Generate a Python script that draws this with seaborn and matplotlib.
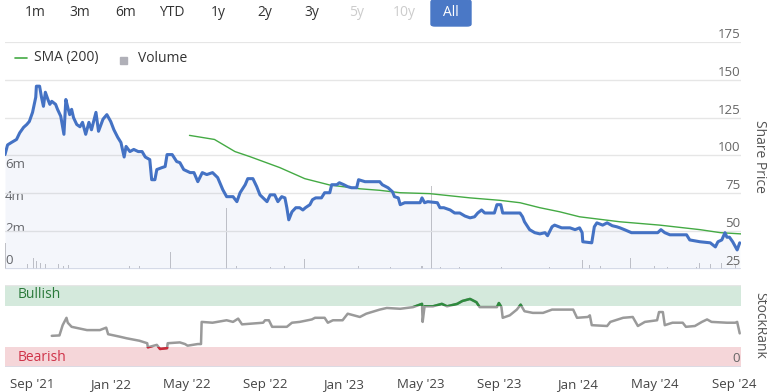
import matplotlib
matplotlib.use('Agg')
import matplotlib.pyplot as plt
import matplotlib.dates as mdates
import matplotlib.transforms as mtransforms
from matplotlib.patches import Rectangle, FancyBboxPatch
import pandas as pd
import seaborn as sns

# Share price
price_dates = ['2021-07-21', '2021-07-25', '2021-07-31', '2021-08-08', '2021-08-13', '2021-08-19',
               '2021-08-24', '2021-08-28', '2021-09-02', '2021-09-07', '2021-09-08', '2021-09-13',
               '2021-09-16', '2021-09-19', '2021-09-22', '2021-09-26', '2021-09-29', '2021-10-02',
               '2021-10-08', '2021-10-11', '2021-10-16', '2021-10-21', '2021-10-24', '2021-10-27',
               '2021-10-30', '2021-11-02', '2021-11-05', '2021-11-10', '2021-11-15', '2021-11-19',
               '2021-11-24', '2021-11-29', '2021-12-03', '2021-12-10', '2021-12-14', '2021-12-21',
               '2021-12-27', '2022-01-02', '2022-01-07', '2022-01-13', '2022-01-18', '2022-01-23',
               '2022-01-26', '2022-02-01', '2022-02-07', '2022-02-14', '2022-02-20', '2022-02-25',
               '2022-03-04', '2022-03-07', '2022-03-12', '2022-03-15', '2022-03-23', '2022-03-28',
               '2022-03-31', '2022-04-08', '2022-04-15', '2022-04-20', '2022-04-26', '2022-05-06',
               '2022-05-12', '2022-05-18', '2022-05-25', '2022-06-01', '2022-06-10', '2022-06-18',
               '2022-06-26', '2022-07-02', '2022-07-12', '2022-07-18', '2022-07-23', '2022-07-31',
               '2022-08-04', '2022-08-12', '2022-08-18', '2022-08-23', '2022-08-28', '2022-09-03',
               '2022-09-08', '2022-09-15', '2022-09-20', '2022-09-26', '2022-10-01', '2022-10-04',
               '2022-10-07', '2022-10-12', '2022-10-18', '2022-10-24', '2022-10-29', '2022-11-02',
               '2022-11-09', '2022-11-13', '2022-11-18', '2022-11-27', '2022-12-02', '2022-12-10',
               '2022-12-13', '2022-12-21', '2022-12-25', '2023-01-01', '2023-01-07', '2023-01-13',
               '2023-01-21', '2023-01-24', '2023-02-03', '2023-02-14', '2023-02-26', '2023-03-02',
               '2023-03-11', '2023-03-18', '2023-03-21', '2023-03-27', '2023-03-30', '2023-04-06',
               '2023-04-17', '2023-04-30', '2023-05-03', '2023-05-07', '2023-05-12', '2023-05-27',
               '2023-05-31', '2023-06-06', '2023-06-16', '2023-06-23', '2023-07-01', '2023-07-09',
               '2023-07-17', '2023-07-24', '2023-07-29', '2023-08-04', '2023-08-09', '2023-08-24',
               '2023-08-28', '2023-09-03', '2023-09-06', '2023-10-03', '2023-10-07', '2023-10-10',
               '2023-10-18', '2023-10-26', '2023-11-03', '2023-11-11', '2023-11-15', '2023-11-18',
               '2023-11-22', '2023-11-26', '2023-12-07', '2023-12-20', '2023-12-28', '2024-01-04',
               '2024-01-08', '2024-01-09', '2024-01-23', '2024-01-27', '2024-01-31', '2024-02-09',
               '2024-02-16', '2024-02-24', '2024-03-02', '2024-03-07', '2024-03-14', '2024-03-25',
               '2024-04-14', '2024-04-30', '2024-05-05', '2024-05-10', '2024-05-16', '2024-05-24',
               '2024-06-19', '2024-06-24', '2024-07-10', '2024-07-26', '2024-08-03', '2024-08-07',
               '2024-08-13', '2024-08-18', '2024-08-21', '2024-08-25', '2024-08-30', '2024-09-06',
               '2024-09-10']
price_values = [100.6, 107, 108.6, 110.6, 115, 118.6,
                120.5, 122.5, 128.5, 138.5, 145.8, 145.8,
                138.5, 132.5, 141.8, 137, 133.8, 135.8,
                133.8, 130.5, 126, 114, 137, 131.8,
                127, 130.5, 125, 120.5, 119, 121.9,
                114, 121.9, 117, 128.5, 116, 124,
                127, 122.5, 117, 112, 108.6, 99,
                106, 102.6, 104, 102.6, 102.6, 99,
                97.3, 84, 84, 90.7, 92, 92.7,
                100.6, 100.6, 96, 95.3, 90.7, 88.7,
                88.7, 82.7, 88.7, 87.4, 88.7, 85.4,
                77.4, 72.8, 72.8, 69.5, 75.4, 80.7,
                84.7, 84.7, 79.4, 74, 72, 69.5,
                74, 74, 69.5, 72.8, 72, 65.5,
                57.5, 62.8, 65.5, 65.5, 64, 65.5,
                67.5, 70.8, 72, 72, 75.4, 75.4,
                80.7, 80.7, 82, 80.7, 79.4, 78.7,
                78.7, 84, 82.7, 82.7, 82.7, 80.7,
                78.7, 76, 72.8, 72, 67.5, 68.8,
                68.8, 68.8, 72, 68.8, 69.5, 68.8,
                65.5, 65.5, 64, 62, 62, 60,
                58.8, 59.5, 62, 64, 62, 62,
                67.5, 67.5, 62, 62, 59.5, 56.2,
                51, 49, 48.2, 49, 47, 49.5,
                52.9, 54, 52.2, 52.2, 51, 52.2,
                49, 43, 42.3, 52.9, 55.5, 54,
                55.5, 53.6, 52.9, 52.2, 51, 49,
                49, 49, 49, 51, 49, 47.6,
                47.6, 44.2, 43, 42.3, 39.6, 43,
                44.2, 49, 46, 46, 43, 37.6,
                42.3]

# 200-day simple moving average
sma_dates = ['2022-05-05', '2022-06-13', '2022-07-15', '2022-08-07', '2022-09-23', '2022-11-01',
             '2022-12-10', '2023-01-26', '2023-02-26', '2023-03-30', '2023-05-15', '2023-07-17',
             '2023-09-01', '2023-10-03', '2023-11-03', '2023-12-04', '2024-01-04', '2024-03-07',
             '2024-05-08', '2024-07-10', '2024-08-11', '2024-09-12']
sma_values = [113.3, 110.6, 102.6, 99.3, 92, 84.7,
              80.5, 78, 77, 75.4, 74.8, 72,
              70.4, 68.8, 65.5, 62.8, 59.5, 56.2,
              54, 51, 49, 48.2]

# Volume (millions of shares)
vol_dates = ['2021-07-21', '2021-08-25', '2021-09-03', '2021-09-08', '2021-09-15', '2021-09-22',
             '2021-10-12', '2021-10-20', '2021-10-28', '2022-02-01', '2022-02-16', '2022-04-05',
             '2022-07-02', '2022-07-18', '2022-09-08', '2022-10-01', '2022-11-01', '2023-01-24',
             '2023-03-15', '2023-05-03', '2023-05-18', '2023-06-01', '2023-07-01', '2023-09-04',
             '2023-11-18', '2024-01-09', '2024-01-20', '2024-02-05', '2024-03-24', '2024-04-30',
             '2024-05-20', '2024-07-04', '2024-07-09', '2024-07-26', '2024-08-13', '2024-09-03']
vol_values = [1.6, 0.3, 0.7, 0.5, 0.4, 0.3,
              0.3, 0.2, 0.25, 0.2, 0.2, 1.06,
              3.8, 0.2, 0.15, 0.2, 0.6, 0.2,
              0.1, 0.2, 5.2, 0.1, 0.1, 0.1,
              0.1, 0.55, 0.25, 0.2, 0.7, 0.2,
              0.15, 0.1, 0.4, 0.3, 0.35, 0.3]

# StockRank
rank_dates = ['2021-10-02', '2021-10-14', '2021-10-19', '2021-10-25', '2021-10-27', '2021-11-02',
              '2021-11-26', '2021-12-16', '2021-12-26', '2021-12-29', '2022-01-16', '2022-01-27',
              '2022-02-16', '2022-02-28', '2022-03-01', '2022-03-15', '2022-03-20', '2022-03-31',
              '2022-04-01', '2022-04-20', '2022-04-28', '2022-05-02', '2022-05-18', '2022-05-23',
              '2022-05-24', '2022-06-10', '2022-07-02', '2022-07-12', '2022-07-20', '2022-07-26',
              '2022-08-28', '2022-08-31', '2022-09-06', '2022-09-11', '2022-10-04', '2022-10-12',
              '2022-10-24', '2022-11-12', '2022-11-17', '2022-12-02', '2022-12-07', '2022-12-15',
              '2022-12-30', '2023-01-07', '2023-01-26', '2023-02-05', '2023-02-26', '2023-03-09',
              '2023-03-30', '2023-04-19', '2023-05-03', '2023-05-04', '2023-05-07', '2023-05-20',
              '2023-06-03', '2023-06-11', '2023-06-27', '2023-07-05', '2023-07-17', '2023-07-27',
              '2023-08-01', '2023-08-28', '2023-08-31', '2023-09-04', '2023-09-06', '2023-09-17',
              '2023-09-28', '2023-10-04', '2023-10-10', '2023-10-23', '2023-11-08', '2023-11-22',
              '2023-12-04', '2023-12-25', '2023-12-31', '2024-01-17', '2024-01-20', '2024-01-23',
              '2024-02-16', '2024-02-21', '2024-03-12', '2024-03-27', '2024-04-04', '2024-04-15',
              '2024-05-04', '2024-05-07', '2024-05-13', '2024-05-16', '2024-05-28', '2024-06-13',
              '2024-06-18', '2024-07-02', '2024-07-13', '2024-07-21', '2024-07-28', '2024-08-21',
              '2024-09-03', '2024-09-06', '2024-09-10']
rank_values = [38, 38.5, 51, 60, 54, 49,
               45, 45, 48, 40, 37, 35,
               32, 29, 24, 27, 22, 23,
               29, 30, 28, 26, 28, 28,
               55, 54, 57, 55, 59, 52,
               54, 57, 57, 49, 49, 54,
               55, 58, 60, 60, 54, 57,
               57, 65, 61, 65, 70, 72,
               71, 73, 77, 55, 74, 74,
               77, 74, 77, 80.5, 83, 79,
               73, 73, 78, 73, 60, 63,
               70, 76, 68, 66, 66, 70,
               70, 70, 60, 61, 63, 51,
               50, 55, 60, 61, 50, 55,
               57, 67, 67, 51, 54, 54,
               49, 50, 55, 58, 55, 54,
               54, 55, 41]

range_buttons = ['1m', '3m', '6m', 'YTD', '1y', '2y', '3y', '5y', '10y', 'All']
disabled_buttons = ['5y', '10y']
price_ticks = [25, 50, 75, 100, 125, 150, 175]
volume_ticks = [0, 2, 4, 6]
volume_labels = ['0', '2m', '4m', '6m']
month_ticks = ['2021-09-01', '2022-01-01', '2022-05-01', '2022-09-01', '2023-01-01',
               '2023-05-01', '2023-09-01', '2024-01-01', '2024-05-01', '2024-09-01']
month_labels = ["Sep '21", "Jan '22", "May '22", "Sep '22", "Jan '23",
                "May '23", "Sep '23", "Jan '24", "May '24", "Sep '24"]

sns.set_theme(style='white')
plt.rcParams['font.family'] = ['Open Sans', 'DejaVu Sans']

price = pd.DataFrame({'date': pd.to_datetime(price_dates), 'price': price_values})
sma = pd.DataFrame({'date': pd.to_datetime(sma_dates), 'sma': sma_values})
vol = pd.DataFrame({'date': pd.to_datetime(vol_dates), 'vol': vol_values})
rank = pd.DataFrame({'date': pd.to_datetime(rank_dates), 'rank': rank_values})

W, H = 767, 392
fig = plt.figure(figsize=(W / 100, H / 100), dpi=100)
fig.patch.set_facecolor('white')

def rect(x0, y0, x1, y1):
    return [x0 / W, 1 - y1 / H, (x1 - x0) / W, (y1 - y0) / H]

xlim = (pd.Timestamp('2021-07-21'), pd.Timestamp('2024-09-12'))

ax = fig.add_axes(rect(5, 42, 741, 269))
ax_vol = ax.twinx()
# price drawn above the volume bars
ax.set_zorder(ax_vol.get_zorder() + 1)
ax.patch.set_visible(False)
ax_rank = fig.add_axes(rect(5, 285, 741, 367), sharex=ax)

for a in (ax_vol, ax, ax_rank):
    for s in a.spines.values():
        s.set_visible(False)

# volume bars
ax_vol.bar(vol['date'], vol['vol'], width=1.6, color='#c4c4c8', lw=0)
ax_vol.set_ylim(0, 14.2)
ax_vol.set_yticks([])
vol_tr = mtransforms.blended_transform_factory(ax_vol.transAxes, ax_vol.transData)
for v, lbl in zip(volume_ticks, volume_labels):
    ax_vol.text(0.0, v + 0.55, lbl, transform=vol_tr, ha='left', va='center',
                fontsize=9.5, color='#666666')

# price panel
ax.set_ylim(25, 175)
for p in price_ticks[1:]:
    ax.axhline(p, color='#e6e6e6', lw=1.6 if p == 175 else 1.0, zorder=0)
ax.axhline(25, color='#d8dce6', lw=1.2, zorder=1)
ax.fill_between(price['date'], price['price'], 25, color='#5070c0', alpha=0.06, lw=0, zorder=1)
sns.lineplot(data=price, x='date', y='price', ax=ax, color='#4472c4', linewidth=2.2,
             estimator=None, sort=False, zorder=4)
sns.lineplot(data=sma, x='date', y='sma', ax=ax, color='#44aa44', linewidth=1.0,
             estimator=None, sort=False, zorder=3)
ax.set_xlabel('')
ax.set_ylabel('')
ax.set_yticks([])
price_tr = mtransforms.blended_transform_factory(ax.transAxes, ax.transData)
for p in price_ticks:
    ax.text(0.999, p + 5, str(p), transform=price_tr, ha='right', va='center',
            fontsize=9.5, color='#666666')
ax.tick_params(axis='x', length=0, labelbottom=False)

# StockRank panel
ax_rank.set_ylim(0, 100)
ax_rank.axhspan(75, 100, color='#d4e9dc', lw=0, zorder=0)
ax_rank.axhspan(0, 25, color='#f5d6d9', lw=0, zorder=0)
ax_rank.axhline(100, color='#e6e6e6', lw=1.0, zorder=1)
ax_rank.axhline(0, color='#d8dce6', lw=1.2, zorder=1)
sns.lineplot(data=rank, x='date', y='rank', ax=ax_rank, color='#9a9a9a', linewidth=1.8,
             estimator=None, sort=False, zorder=3)
rank_tr = mtransforms.blended_transform_factory(ax_rank.transAxes, ax_rank.transData)
for lo, hi, col in [(75, 100, '#2e8b3e'), (0, 25, '#cc2a3a')]:
    line, = ax_rank.plot(rank['date'], rank['rank'], color=col, lw=1.8, zorder=4)
    clip = Rectangle((0, lo), 1, hi - lo, transform=rank_tr, visible=False)
    ax_rank.add_patch(clip)
    line.set_clip_path(clip)
ax_rank.text(0.017, 88, 'Bullish', transform=rank_tr, ha='left', va='center',
             fontsize=10, color='#2b7a3b')
ax_rank.text(0.017, 11, 'Bearish', transform=rank_tr, ha='left', va='center',
             fontsize=10, color='#cf3349')
ax_rank.text(0.999, 10, '0', transform=rank_tr, ha='right', va='center',
             fontsize=9.5, color='#666666')
ax_rank.set_xlabel('')
ax_rank.set_ylabel('')
ax_rank.set_yticks([])
ax_rank.set_xlim(*xlim)
ax_rank.set_xticks(pd.to_datetime(month_ticks))
ax_rank.set_xticklabels(month_labels)
ax_rank.tick_params(axis='x', length=5, width=1, color='#ccd6eb', labelbottom=True,
                    labelsize=9.5, labelcolor='#444444', pad=3)

# range selector buttons
button_x = [35, 80, 126, 172, 218, 265, 312, 357, 404, 451]
for bx, lbl in zip(button_x, range_buttons):
    if lbl == 'All':
        fig.patches.append(FancyBboxPatch((431 / W, 1 - 26 / H), 40 / W, 26 / H,
                                          boxstyle='round,pad=0,rounding_size=0.005',
                                          transform=fig.transFigure, color='#4a78c6'))
        col = 'white'
    elif lbl in disabled_buttons:
        col = '#cccccc'
    else:
        col = '#333333'
    fig.text(bx / W, 1 - 13 / H, lbl, ha='center', va='center', fontsize=10, color=col)

# legend
fig.add_artist(plt.Line2D([15 / W, 27 / W], [1 - 58 / H, 1 - 58 / H], color='#44aa44', lw=1.2))
fig.text(34 / W, 1 - 58 / H, 'SMA (200)', ha='left', va='center', fontsize=10, color='#333333')
fig.patches.append(Rectangle((120 / W, 1 - 64 / H), 7 / W, 7 / H, transform=fig.transFigure,
                             color='#b0b0b8'))
fig.text(138 / W, 1 - 58 / H, 'Volume', ha='left', va='center', fontsize=10, color='#333333')

# axis titles on the right
fig.text(760 / W, 1 - 156 / H, 'Share Price', rotation=-90, ha='center', va='center',
         fontsize=10, color='#555555')
fig.text(760 / W, 1 - 325 / H, 'StockRank', rotation=-90, ha='center', va='center',
         fontsize=10, color='#555555')

fig.savefig('out.png', dpi=100, facecolor='white')
